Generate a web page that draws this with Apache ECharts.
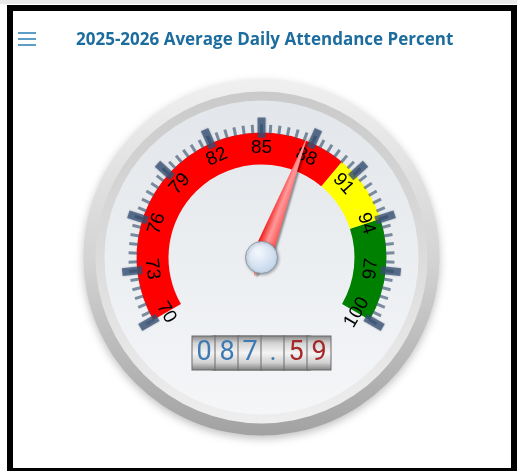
<!DOCTYPE html>
<html>
<head>
<meta charset="utf-8">
<script src="https://cdn.jsdelivr.net/npm/echarts@6/dist/echarts.min.js"></script>
<style>
html, body { margin: 0; padding: 0; background: #fff; }
#strip { position: absolute; left: 0; top: 0; width: 517px; height: 4px; background: #e9e9e9; }
#chart { position: absolute; left: 0; top: 0; width: 517px; height: 471px; }
#frame { position: absolute; left: 7px; top: 5px; width: 498px; height: 457px; border: 6px solid #000; pointer-events: none; }
</style>
</head>
<body>
<div id="strip"></div>
<div id="chart"></div>
<div id="frame"></div>
<script>
// gauge data
const MIN = 70
const MAX = 100
const tickValues = [70, 73, 76, 79, 82, 85, 88, 91, 94, 97, 100]
const bandStops = [90, 94, 100]
const bandColors = ["#ff0000", "#ffff00", "#008000"]
const attendance = [87.59]

const CENTER = [261.5, 257.5]
const START_ANGLE = 210
const END_ANGLE = -30
const G = echarts.graphic

const hidden = {
  pointer: { show: false },
  anchor: { show: false },
  axisTick: { show: false },
  axisLabel: { show: false },
  title: { show: false },
  detail: { show: false },
  progress: { show: false }
}

// full disc drawn with a gauge axis line as wide as its radius
function disc(radius, stops, extra) {
  return Object.assign({}, hidden, {
    type: "gauge",
    silent: true,
    center: CENTER,
    radius: radius,
    startAngle: 90,
    endAngle: -270,
    splitLine: { show: false },
    axisLine: {
      lineStyle: Object.assign(
        { width: radius, color: [[1, new G.LinearGradient(0, 0, 0, 1, stops)]] },
        extra || {}
      )
    },
    data: []
  })
}

// tangential label turned over when it would read upside down
function labelRotation(v) {
  const ang = START_ANGLE - ((v - MIN) / (MAX - MIN)) * (START_ANGLE - END_ANGLE)
  let rot = ang - 90
  if (rot > 90) rot -= 180
  if (rot < -90) rot += 180
  return rot === 0 ? 0.0001 : rot
}

const scale = {
  type: "gauge",
  silent: true,
  center: CENTER,
  radius: 125,
  startAngle: START_ANGLE,
  endAngle: END_ANGLE,
  min: MIN,
  max: MAX,
  splitNumber: 10
}

const bandSeries = Object.assign({}, hidden, scale, {
  axisLine: {
    lineStyle: {
      width: 32,
      color: bandStops.map((s, i) => [(s - MIN) / (MAX - MIN), bandColors[i]])
    }
  },
  splitLine: {
    distance: -47,
    length: 20,
    lineStyle: { width: 8, color: "rgba(52,78,112,0.72)", shadowBlur: 2, shadowColor: "rgba(52,78,112,0.5)" }
  },
  axisTick: {
    show: true,
    splitNumber: 6,
    distance: -40,
    length: 9,
    lineStyle: { width: 3, color: "rgba(62,84,112,0.65)" }
  },
  data: []
})

const labelSeries = tickValues.map(tv =>
  Object.assign({}, hidden, scale, {
    axisLine: { show: false, lineStyle: { width: 32 } },
    splitLine: { show: false, distance: -47, length: 20 },
    axisLabel: {
      show: true,
      distance: 42,
      rotate: labelRotation(tv),
      color: "#000",
      fontSize: 19,
      fontFamily: "Liberation Sans, Arial, sans-serif",
      formatter: v => (v === tv ? String(tv) : "")
    },
    data: []
  })
)

function cell(color) {
  return {
    width: 23,
    height: 33,
    lineHeight: 33,
    align: "center",
    fontSize: 27,
    fontFamily: "Roboto",
    fontWeight: 400,
    color: color,
    borderColor: "#6a6a6a",
    borderWidth: 1,
    backgroundColor: new G.LinearGradient(0, 0, 0, 1, [
      { offset: 0, color: "#858585" },
      { offset: 0.22, color: "#d4d4d4" },
      { offset: 0.5, color: "#f4f4f4" },
      { offset: 0.78, color: "#d0d0d0" },
      { offset: 1, color: "#7e7e7e" }
    ])
  }
}

const pointerSeries = Object.assign({}, hidden, scale, {
  axisLine: { show: false },
  splitLine: { show: false },
  pointer: {
    show: true,
    length: 130,
    width: 10,
    itemStyle: {
      color: new G.LinearGradient(0, 0, 1, 0, [
        { offset: 0, color: "#f00000" },
        { offset: 0.5, color: "#ff9a9a" },
        { offset: 1, color: "#ff4a4a" }
      ]),
      shadowColor: "rgba(0,0,0,0.4)",
      shadowBlur: 2,
      shadowOffsetX: 2,
      shadowOffsetY: 1
    }
  },
  anchor: {
    show: true,
    showAbove: true,
    size: 32,
    itemStyle: {
      color: new G.RadialGradient(0.4, 0.35, 0.75, [
        { offset: 0, color: "#f4f8fd" },
        { offset: 1, color: "#bcd0e8" }
      ]),
      borderColor: "#8e9bab",
      borderWidth: 1,
      shadowColor: "rgba(0,0,0,0.3)",
      shadowBlur: 3,
      shadowOffsetX: 1,
      shadowOffsetY: 1
    }
  },
  detail: {
    show: true,
    offsetCenter: [0, 95.5],
    backgroundColor: "#7a7a7a",
    padding: 1,
    borderRadius: 2,
    valueAnimation: false,
    formatter: v => {
      const s = v.toFixed(2).padStart(6, "0")
      return s
        .split("")
        .map((c, i) => "{" + (c === "." ? "p" : i < 3 ? "i" : "f") + "|" + c + "}")
        .join("")
    },
    rich: { i: cell("#3d7ab4"), p: cell("#3d7ab4"), f: cell("#a52828") }
  },
  data: attendance.map(v => ({ value: v }))
})

const chart = echarts.init(document.getElementById("chart"))
chart.setOption({
  animation: false,
  title: {
    text: "2025-2026 Average Daily Attendance Percent",
    left: 76,
    top: 32,
    padding: 0,
    textStyle: { color: "#1c6d9e", fontSize: 17, fontWeight: "bold", fontFamily: "Open Sans" }
  },
  graphic: [0, 1, 2].map(i => ({
    type: "rect",
    left: 18,
    top: 32 + i * 6,
    shape: { width: 18, height: 2 },
    style: { fill: "#5c9ec6" }
  })),
  series: [
    disc(178, [
      { offset: 0, color: "#f0f0f0" },
      { offset: 0.5, color: "#d4d4d4" },
      { offset: 1, color: "#a2a2a2" }
    ], { shadowBlur: 8, shadowColor: "rgba(0,0,0,0.25)", shadowOffsetY: 3 }),
    disc(166, [
      { offset: 0, color: "#cacaca" },
      { offset: 1, color: "#eeeeee" }
    ]),
    disc(157, [
      { offset: 0, color: "#e3e6ea" },
      { offset: 1, color: "#f4f6f8" }
    ]),
    bandSeries,
    ...labelSeries,
    pointerSeries
  ]
})
</script>
</body>
</html>
